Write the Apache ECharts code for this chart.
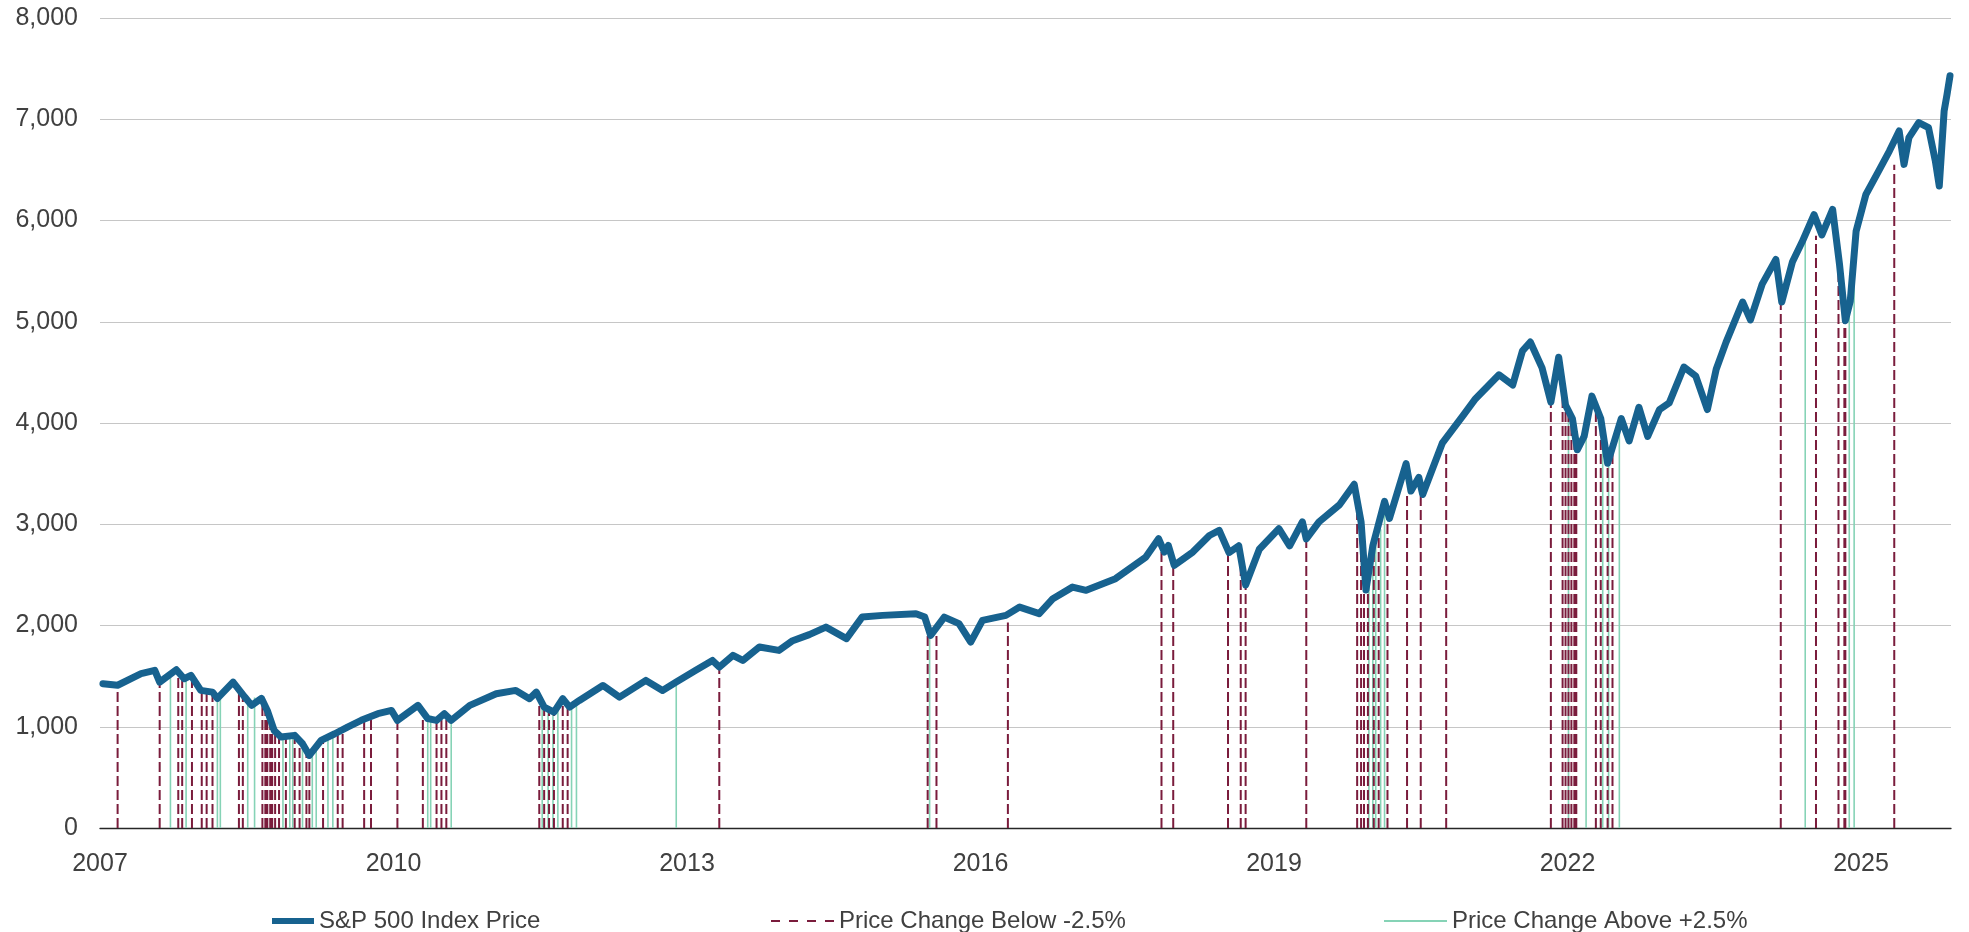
<!DOCTYPE html>
<html>
<head>
<meta charset="utf-8">
<script src="https://cdn.jsdelivr.net/npm/echarts@6/dist/echarts.min.js"></script>
<style>
html,body{margin:0;padding:0;background:#fff;}
#chart{width:1969px;height:932px;}
</style>
</head>
<body>
<div id="chart"></div>
<script>
// ---- Data (x in axis-label years) ----
const xTickLabels = ['2007','2010','2013','2016','2019','2022','2025'];

const priceYears = [
2007.03,2007.18,2007.42,2007.56,2007.61,2007.78,2007.86,2007.93,2008.03,2008.15,
2008.20,2008.36,2008.48,2008.55,2008.65,2008.71,2008.78,2008.85,2008.99,2009.07,
2009.14,2009.26,2009.40,2009.53,2009.67,2009.84,2009.98,2010.04,2010.25,2010.35,
2010.44,2010.52,2010.59,2010.78,2011.05,2011.25,2011.39,2011.46,2011.54,2011.64,
2011.73,2011.80,2011.90,2012.14,2012.31,2012.58,2012.75,2012.89,2013.09,2013.26,
2013.33,2013.47,2013.57,2013.74,2013.94,2014.08,2014.25,2014.42,2014.63,2014.79,
2015.00,2015.34,2015.43,2015.49,2015.63,2015.78,2015.90,2016.02,2016.26,2016.40,
2016.60,2016.74,2016.94,2017.08,2017.38,2017.69,2017.82,2017.88,2017.92,2017.98,
2018.17,2018.34,2018.44,2018.54,2018.64,2018.71,2018.85,2019.05,2019.16,2019.29,
2019.33,2019.46,2019.67,2019.82,2019.89,2019.94,2020.01,2020.13,2020.18,2020.35,
2020.40,2020.48,2020.52,2020.72,2020.93,2021.06,2021.30,2021.44,2021.54,2021.62,
2021.74,2021.83,2021.91,2021.98,2022.05,2022.10,2022.17,2022.25,2022.34,2022.41,
2022.55,2022.63,2022.73,2022.82,2022.94,2023.04,2023.19,2023.31,2023.43,2023.52,
2023.62,2023.79,2023.87,2023.99,2024.13,2024.19,2024.30,2024.40,2024.52,2024.60,
2024.71,2024.78,2024.84,2024.89,2024.95,2025.05,2025.18,2025.29,2025.39,2025.44,
2025.49,2025.59,2025.69,2025.76,2025.80,2025.85,2025.88,2025.91];

const priceValues = [
1425,1410,1524,1557,1441,1563,1474,1507,1359,1342,
1280,1441,1293,1211,1280,1161,964,898,915,832,
717,865,931,997,1063,1129,1161,1063,1211,1080,
1063,1129,1063,1211,1326,1359,1277,1342,1194,1145,
1277,1194,1260,1408,1293,1458,1359,1441,1557,1655,
1589,1705,1655,1787,1754,1850,1910,1984,1870,2083,
2100,2117,2083,1902,2083,2018,1836,2050,2100,2182,
2117,2265,2379,2347,2462,2676,2857,2725,2791,2594,
2725,2889,2939,2720,2787,2400,2753,2956,2787,3024,
2855,3024,3193,3395,3024,2350,2787,3226,3057,3598,
3328,3463,3294,3801,4071,4240,4476,4375,4713,4800,
4544,4206,4650,4177,4044,3735,3867,4265,4044,3602,
4044,3823,4155,3867,4133,4199,4553,4465,4133,4531,
4796,5195,5018,5372,5615,5195,5593,5792,6058,5858,
6110,5570,5010,5201,5894,6257,6488,6686,6884,6554,
6818,6967,6917,6587,6340,7083,7248,7429];

// Days with price change below -2.5% (position, index level at that day)
const dropYears = [
2007.18,2007.61,2007.80,2007.84,2007.94,2008.04,2008.09,2008.15,2008.42,2008.46,
2008.66,2008.69,2008.71,2008.74,2008.76,2008.79,2008.83,2008.90,2008.99,2009.04,
2009.11,2009.14,2009.28,2009.43,2009.48,2009.70,2009.77,2010.04,2010.30,2010.44,
2010.49,2010.54,2011.49,2011.54,2011.59,2011.64,2011.73,2011.78,2013.33,2015.46,
2015.55,2016.28,2017.85,2017.97,2018.53,2018.66,2018.71,2019.33,2019.85,2019.89,
2019.92,2019.96,2020.02,2020.07,2020.16,2020.36,2020.50,2020.76,2021.83,2021.95,
2021.98,2022.01,2022.04,2022.07,2022.09,2022.29,2022.34,2022.41,2022.46,2024.18,
2024.54,2024.77,2024.83,2024.84,2025.34];
const dropLevels = [
1400,1450,1500,1480,1470,1370,1350,1340,1400,1320,
1260,1200,1160,1100,1020,980,900,880,900,850,
780,730,850,920,930,1060,1080,1070,1150,1070,
1080,1090,1250,1190,1170,1140,1220,1200,1590,2050,
1900,2030,2750,2600,2760,2700,2450,2860,3300,3000,
2700,2450,2700,2900,3050,3300,3300,3700,4300,4400,
4200,4100,4000,3850,3800,4100,4000,3650,3750,5250,
5850,5650,5100,5000,6550];

// Days with price change above +2.5%
const riseYears = [
2007.72,2007.88,2008.20,2008.23,2008.51,2008.58,2008.87,2008.94,2008.97,2009.07,
2009.17,2009.21,2009.33,2009.38,2010.35,2010.38,2010.59,2011.52,2011.58,2011.63,
2011.68,2011.82,2011.87,2012.89,2015.48,2019.97,2020.01,2020.04,2020.09,2020.13,
2022.01,2022.19,2022.36,2022.42,2022.53,2024.43,2024.88,2024.93];
const riseLevels = [
1500,1500,1300,1320,1280,1290,900,900,900,850,
780,820,870,900,1100,1110,1080,1200,1180,1150,
1170,1230,1260,1440,1950,2500,2750,2800,2950,3100,
4150,4000,3950,3750,3950,5800,5150,5500];

// ---- Build series data ----
const priceData = priceYears.map((x, i) => [x, priceValues[i]]);
function verticals(xs, levels) {
  const d = [];
  xs.forEach((x, i) => { d.push([x, 0]); d.push([x, levels[i]]); d.push([x, '-']); });
  return d;
}

const BLUE = '#17628f', RED = '#7a1c3c', GREEN = '#86d3b6';
const FONT = 'Liberation Sans, Arial, sans-serif';
const legendText = {color: '#404040', fontSize: 24, fontFamily: FONT};
const chart = echarts.init(document.getElementById('chart'), null, {renderer: 'canvas'});
chart.setOption({
  animation: false,
  backgroundColor: '#ffffff',
  grid: {left: 100, right: 18, top: 18, bottom: 104, containLabel: false},
  xAxis: {
    type: 'value', min: 2007, max: 2025.92, interval: 3,
    axisLine: {onZero: true, lineStyle: {color: '#262626', width: 1.3}},
    axisTick: {show: false},
    splitLine: {show: false},
    axisLabel: {
      color: '#404040', fontSize: 25, fontFamily: FONT, margin: 24,
      showMaxLabel: false,
      formatter: function (v) {
        const r = Math.round(v);
        if (Math.abs(v - r) > 1e-6) return '';
        const s = String(r);
        return xTickLabels.indexOf(s) >= 0 ? s : '';
      }
    }
  },
  yAxis: {
    type: 'value', min: 0, max: 8000, interval: 1000,
    axisLine: {show: false}, axisTick: {show: false},
    splitLine: {lineStyle: {color: '#c6c6c6', width: 1.2}},
    axisLabel: {
      color: '#404040', fontSize: 25, fontFamily: FONT, margin: 22,
      formatter: v => v.toLocaleString('en-US')
    }
  },
  legend: [
    {data: [{name: 'S&P 500 Index Price', icon: 'path://M0,0h42v6h-42z'}],
     left: 267, top: 904, itemWidth: 42, itemHeight: 6, textStyle: legendText,
     itemStyle: {color: BLUE}},
    {data: [{name: 'Price Change Below -2.5%', icon: 'path://M0,0h9v2h-9zM18,0h9v2h-9zM36,0h9v2h-9zM54,0h9v2h-9z'}],
     left: 766, top: 904, itemWidth: 63, itemHeight: 2, textStyle: legendText,
     itemStyle: {color: RED}},
    {data: [{name: 'Price Change Above +2.5%', icon: 'path://M0,0h63v2h-63z'}],
     left: 1379, top: 904, itemWidth: 63, itemHeight: 2, textStyle: legendText,
     itemStyle: {color: GREEN}}
  ],
  series: [
    {
      name: 'Price Change Above +2.5%', type: 'line', data: verticals(riseYears, riseLevels),
      symbol: 'none', connectNulls: false, z: 2,
      lineStyle: {color: GREEN, width: 1.6, type: 'solid'},
      itemStyle: {color: GREEN}
    },
    {
      name: 'Price Change Below -2.5%', type: 'line', data: verticals(dropYears, dropLevels),
      symbol: 'none', connectNulls: false, z: 3,
      lineStyle: {color: RED, width: 2, type: [10, 4]},
      itemStyle: {color: RED}
    },
    {
      name: 'S&P 500 Index Price', type: 'line', data: priceData,
      symbol: 'none', z: 5,
      lineStyle: {color: BLUE, width: 7, join: 'round', cap: 'round'},
      itemStyle: {color: BLUE}
    }
  ]
});
</script>
</body>
</html>
